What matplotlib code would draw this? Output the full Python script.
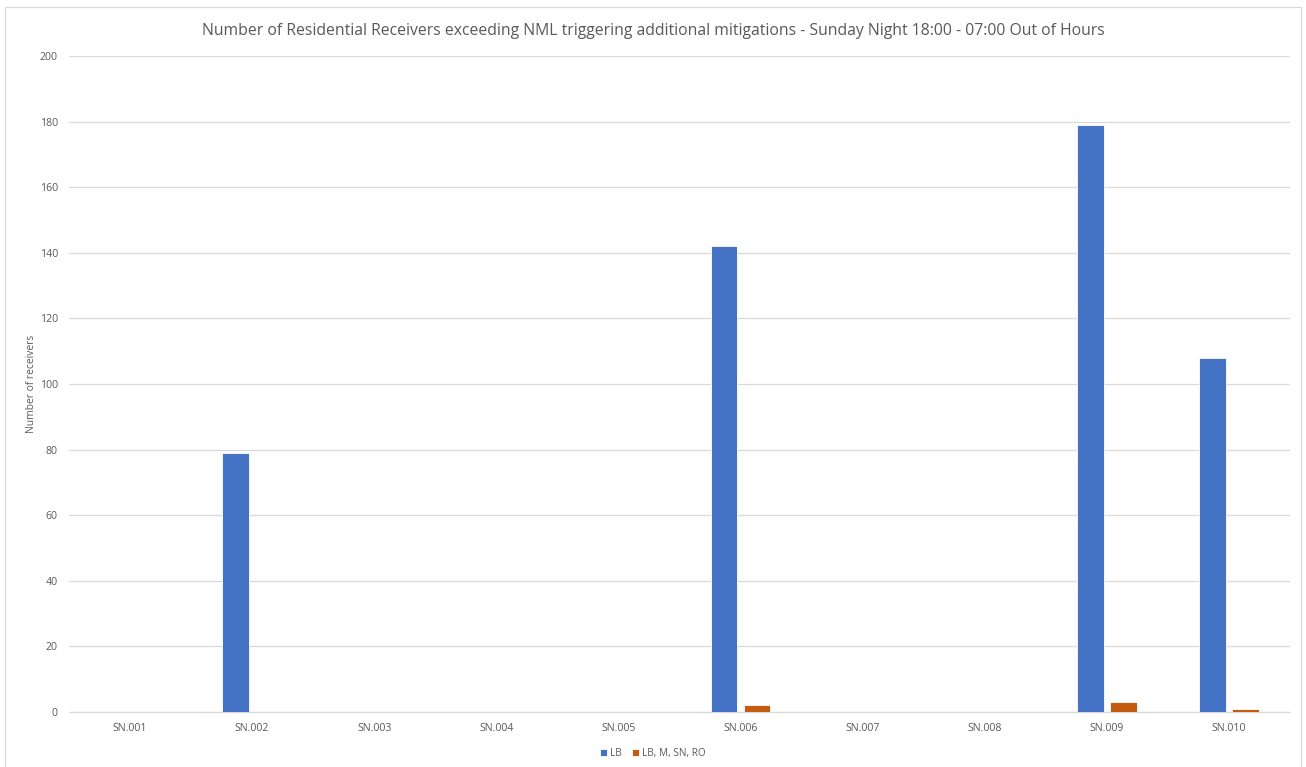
import matplotlib.pyplot as plt
import numpy as np
from matplotlib.patches import Rectangle

categories = ["SN.001", "SN.002", "SN.003", "SN.004", "SN.005",
              "SN.006", "SN.007", "SN.008", "SN.009", "SN.010"]
lb = [0, 79, 0, 0, 0, 142, 0, 0, 179, 108]
lb_m_sn_ro = [0, 0, 0, 0, 0, 2, 0, 0, 3, 1]
series_names = ["LB", "LB, M, SN, RO"]

BLUE = "#4472C4"
ORANGE = "#C55A11"
TEXT = "#595959"
GRID = "#D9D9D9"

plt.rcParams["font.family"] = ["Open Sans", "DejaVu Sans"]

fig = plt.figure(figsize=(13.06, 7.67), dpi=100)
ax = fig.add_axes([0.0528, 0.0717, 0.9349, 0.8553])

x = np.arange(len(categories))
w = 0.22
off = 0.135
ax.bar(x - off, lb, w, color=BLUE, edgecolor="white", linewidth=0.6, label=series_names[0], zorder=3)
ax.bar(x + off, lb_m_sn_ro, w, color=ORANGE, edgecolor="white", linewidth=0.6, label=series_names[1], zorder=3)

ax.set_xlim(-0.5, len(categories) - 0.5)
ax.set_ylim(0, 200)
ax.set_yticks(np.arange(0, 201, 20))
ax.set_xticks(x)
ax.set_xticklabels(categories)
ax.yaxis.grid(True, color=GRID, linewidth=0.9)
ax.set_axisbelow(True)
for s in ["top", "right", "left"]:
    ax.spines[s].set_visible(False)
ax.spines["bottom"].set_color(GRID)
ax.spines["bottom"].set_linewidth(0.9)
ax.tick_params(axis="both", length=0, colors=TEXT, labelsize=7.6)
ax.tick_params(axis="y", pad=8)
ax.tick_params(axis="x", pad=8)
ax.set_ylabel("Number of receivers", color=TEXT, fontsize=7.4)
ax.yaxis.set_label_coords(-0.026, 0.5)

fig.text(0.5, 0.959, "Number of Residential Receivers exceeding NML triggering additional mitigations - "
         "Sunday Night 18:00 - 07:00 Out of Hours", ha="center", va="center", color=TEXT, fontsize=11.3)

fig.legend(loc="center", bbox_to_anchor=(0.5, 0.018), ncol=2, frameon=False,
           fontsize=7.2, labelcolor=TEXT, handlelength=0.7, handleheight=0.7,
           handletextpad=0.3, columnspacing=1.0)

fig.patches.append(Rectangle((0.0038, -0.01), 0.9924, 1.0009, transform=fig.transFigure,
                             fill=False, edgecolor=GRID, linewidth=0.9))

fig.savefig("out.png", dpi=100, facecolor="white")
